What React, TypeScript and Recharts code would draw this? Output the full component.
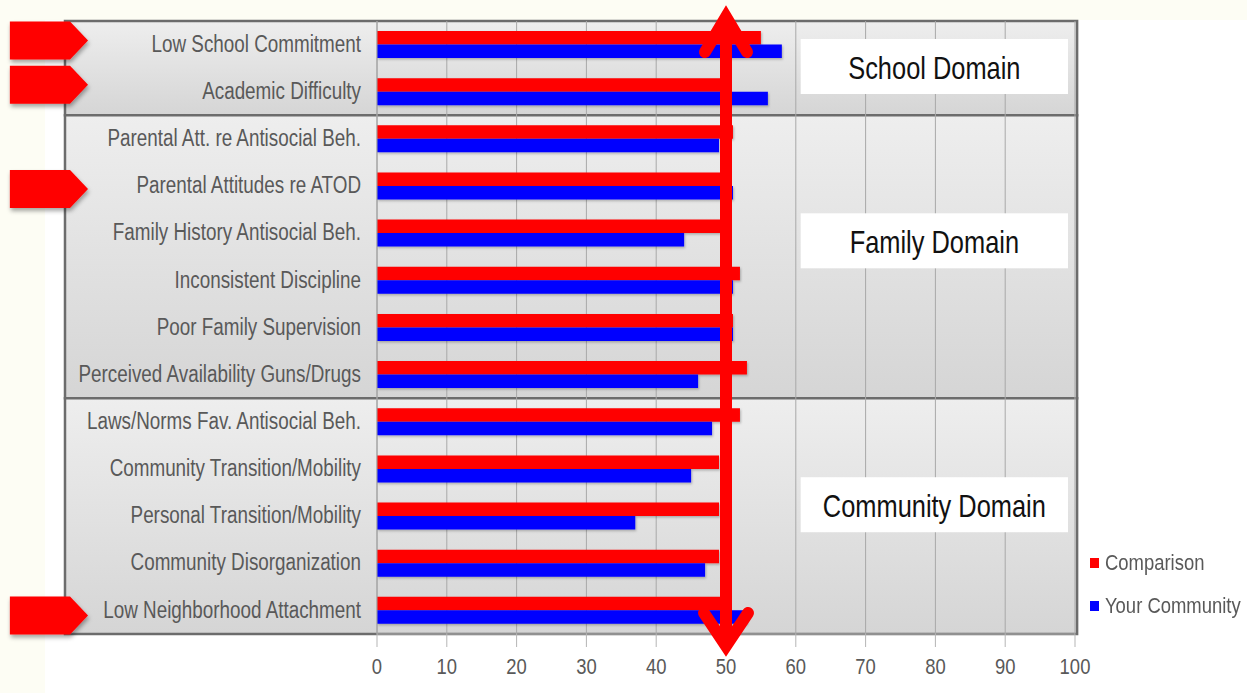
import { Bar, BarChart, CartesianGrid, ReferenceArea, ReferenceLine, XAxis, YAxis } from "recharts";

const categories = [
  "Low School Commitment",
  "Academic Difficulty",
  "Parental Att. re Antisocial Beh.",
  "Parental Attitudes re ATOD",
  "Family History Antisocial Beh.",
  "Inconsistent Discipline",
  "Poor Family Supervision",
  "Perceived Availability Guns/Drugs",
  "Laws/Norms Fav. Antisocial Beh.",
  "Community Transition/Mobility",
  "Personal Transition/Mobility",
  "Community Disorganization",
  "Low Neighborhood Attachment",
];
const comparison = [55, 50, 51, 50, 50, 52, 51, 53, 52, 49, 49, 49, 50];
const yourCommunity = [58, 56, 49, 51, 44, 51, 51, 46, 48, 45, 37, 47, 53];
const xTicks = [0, 10, 20, 30, 40, 50, 60, 70, 80, 90, 100];

const domainLabels = ["School Domain", "Family Domain", "Community Domain"];
const domainFirst = ["Low School Commitment", "Parental Att. re Antisocial Beh.", "Laws/Norms Fav. Antisocial Beh."];
const domainLast = ["Academic Difficulty", "Perceived Availability Guns/Drugs", "Low Neighborhood Attachment"];
const flagged = ["Low School Commitment", "Academic Difficulty", "Parental Attitudes re ATOD", "Low Neighborhood Attachment"];
const seriesNames = ["Comparison", "Your Community"];
const seriesColors = ["#ff0000", "#0000ff"];
const reference = 50;

const data = categories.map((name, i) => ({ name, comparison: comparison[i], community: yourCommunity[i] }));

// layout tweaks; the original font is a narrow sans, so squeeze Liberation Sans
const FONT = '"Liberation Sans", Arial, sans-serif';
const SQUEEZE = 0.82;
const BOX_TOP = [18, 98, 79];
const FLAG_SHIFT: Record<string, number> = {
  "Low School Commitment": -4,
  "Academic Difficulty": -7,
  "Parental Attitudes re ATOD": 3,
  "Low Neighborhood Attachment": 5,
};

const YTick = (p: any) => (
  <text
    transform={`translate(${p.x},${p.y - 1}) scale(${SQUEEZE},1)`}
    textAnchor="end"
    dominantBaseline="central"
    fontSize={23}
    fill="#595959"
    fontFamily={FONT}
  >
    {p.payload.value}
  </text>
);

const XTick = (p: any) => (
  <text
    transform={`translate(${p.x},${p.y + 11}) scale(${SQUEEZE},1)`}
    textAnchor="middle"
    dominantBaseline="central"
    fontSize={22.5}
    fill="#595959"
    fontFamily={FONT}
  >
    {p.payload.value}
  </text>
);

const domainBox = (label: string, top: number) => (p: any) => (
  <g>
    <rect x={p.x} y={p.y + top} width={p.width} height={55} fill="#fff" />
    <text
      transform={`translate(${p.x + p.width / 2},${p.y + top + 29}) scale(${SQUEEZE},1)`}
      textAnchor="middle"
      dominantBaseline="central"
      fontSize={31}
      fill="#111"
      fontFamily={FONT}
    >
      {label}
    </text>
  </g>
);

const flagShape = (name: string) => (p: any) => {
  const h = 38;
  const top = p.y + (p.height - h) / 2 + (FLAG_SHIFT[name] || 0);
  const x0 = p.x, x1 = p.x + p.width - 18, x2 = p.x + p.width;
  return (
    <polygon
      points={`${x0},${top} ${x1},${top} ${x2},${top + h / 2} ${x1},${top + h} ${x0},${top + h}`}
      fill="#ff0000"
      filter="url(#dropShadow)"
    />
  );
};

const bigArrow = (p: any) => {
  const x = p.x1;
  const top = Math.min(p.y1, p.y2);
  const bot = Math.max(p.y1, p.y2);
  return (
    <g stroke="#ff0000" fill="none" strokeWidth={12}>
      <line x1={x} y1={top - 3} x2={x} y2={bot + 14} />
      <polyline points={`${x - 21},${top + 31} ${x},${top - 4} ${x + 21},${top + 31}`} strokeLinecap="round" strokeLinejoin="miter" />
      <polyline points={`${x - 22},${bot - 21} ${x},${bot + 12} ${x + 22},${bot - 21}`} strokeLinecap="round" strokeLinejoin="miter" />
    </g>
  );
};

export default function App() {
  return (
    <div style={{ position: "absolute", left: 0, top: 0, width: 1247, height: 693, background: "#fdfdf4", fontFamily: FONT }}>
      <div style={{ position: "absolute", left: 45, top: 20, right: 0, bottom: 0, background: "#ffffff" }} />
      <svg width={0} height={0} style={{ position: "absolute" }}>
        <defs>
          <linearGradient id="panelGrad" x1="0" y1="0" x2="0" y2="1">
            <stop offset="0%" stopColor="#eeeeee" />
            <stop offset="100%" stopColor="#d5d5d5" />
          </linearGradient>
          <filter id="dropShadow" x="-10%" y="-10%" width="130%" height="140%">
            <feDropShadow dx="1" dy="3" stdDeviation="2" floodColor="#000" floodOpacity="0.35" />
          </filter>
          <filter id="barShadow" x="-5%" y="-20%" width="110%" height="160%">
            <feDropShadow dx="1" dy="1.5" stdDeviation="1" floodColor="#000" floodOpacity="0.25" />
          </filter>
        </defs>
      </svg>
      <div style={{ position: "absolute", left: 0, top: 0 }}>
        <BarChart
          width={1247}
          height={693}
          data={data}
          layout="vertical"
          margin={{ top: 21, right: 172, bottom: 0, left: 0 }}
          barGap={0}
        >
          {domainLabels.map((d, i) => (
            <ReferenceArea
              key={"panel" + d}
              y1={domainFirst[i]}
              y2={domainLast[i]}
              x1={-44.7}
              x2={100.3}
              ifOverflow="visible"
              fill="url(#panelGrad)"
              fillOpacity={1}
              stroke="#6c6c6c"
              strokeWidth={2.5}
              zIndex={-200}
            />
          ))}
          <CartesianGrid horizontal={false} stroke="#a8a8a8" zIndex={-100} />
          <XAxis
            type="number"
            domain={[0, 100]}
            ticks={xTicks}
            allowDataOverflow
            height={59}
            axisLine={{ stroke: "#b5b5b5" }}
            tickLine={{ stroke: "#b5b5b5" }}
            tickSize={13}
            tickMargin={8}
            tick={<XTick />}
          />
          <YAxis
            type="category"
            dataKey="name"
            width={377}
            axisLine={{ stroke: "#a0a0a0" }}
            tickLine={false}
            tickMargin={10}
            tick={<YTick />}
            interval={0}
          />
          <Bar dataKey="comparison" name={seriesNames[0]} fill={seriesColors[0]} barSize={13.5} filter="url(#barShadow)" isAnimationActive={false} />
          <Bar dataKey="community" name={seriesNames[1]} fill={seriesColors[1]} barSize={13.5} filter="url(#barShadow)" isAnimationActive={false} />
          {domainLabels.map((d, i) => (
            <ReferenceArea
              key={"box" + d}
              y1={domainFirst[i]}
              y2={domainLast[i]}
              x1={60.7}
              x2={99}
              ifOverflow="visible"
              shape={domainBox(d, BOX_TOP[i])}
              zIndex={1400}
            />
          ))}
          {flagged.map((f) => (
            <ReferenceArea key={"flag" + f} y1={f} y2={f} x1={-52.6} x2={-41.4} ifOverflow="visible" shape={flagShape(f)} zIndex={1400} />
          ))}
          <ReferenceLine x={reference} ifOverflow="visible" stroke="#ff0000" shape={bigArrow} zIndex={1500} />
        </BarChart>
      </div>
      <div style={{ position: "absolute", left: 1090, top: 541, fontSize: 22.5, color: "#595959", whiteSpace: "nowrap" }}>
        {seriesNames.map((n, i) => (
          <div key={n} style={{ display: "flex", alignItems: "center", height: 43 }}>
            <span style={{ width: 9, height: 10, background: seriesColors[i], marginRight: 6, display: "inline-block" }} />
            <span style={{ display: "inline-block", transform: `scale(${SQUEEZE},1)`, transformOrigin: "left center" }}>{n}</span>
          </div>
        ))}
      </div>
    </div>
  );
}
